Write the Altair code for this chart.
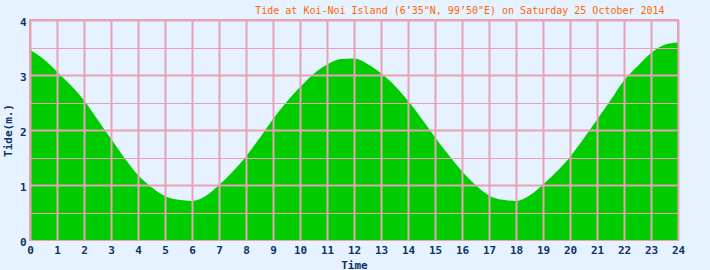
import altair as alt
import pandas as pd

hours = [0, 0.5, 1, 1.5, 2, 2.5, 3, 3.5, 4, 4.5, 5, 5.5, 6, 6.5, 7, 7.5, 8, 8.5,
         9, 9.5, 10, 10.5, 11, 11.5, 12, 12.5, 13, 13.5, 14, 14.5, 15, 15.5, 16,
         16.5, 17, 17.5, 18, 18.5, 19, 19.5, 20, 20.5, 21, 21.5, 22, 22.5, 23,
         23.5, 24]
tide = [3.46, 3.29, 3.06, 2.82, 2.54, 2.19, 1.84, 1.49, 1.18, 0.96, 0.80, 0.73,
        0.71, 0.80, 1.00, 1.24, 1.52, 1.85, 2.20, 2.51, 2.78, 3.02, 3.19, 3.29,
        3.30, 3.20, 3.03, 2.81, 2.53, 2.21, 1.87, 1.55, 1.25, 1.00, 0.81, 0.73,
        0.71, 0.81, 1.01, 1.24, 1.51, 1.84, 2.19, 2.54, 2.90, 3.16, 3.40, 3.55,
        3.59]

x_ticks = list(range(0, 25))
y_ticks = [i / 2 for i in range(0, 9)]

title_text = "Tide at Koi-Noi Island (6\u201935\"N, 99\u201950\"E) on Saturday 25 October 2014"

df = pd.DataFrame({"hour": hours, "tide": tide})

PINK = "#E8A2B6"
TXT = "#0B3366"
BG = "#E6F2FF"
FONT = "DejaVu Sans Mono"

chart = alt.Chart(df).mark_area(color="#00CC00", interpolate="monotone", opacity=1).encode(
    x=alt.X("hour:Q",
            scale=alt.Scale(domain=[0, 24], nice=False),
            axis=alt.Axis(values=x_ticks, title="Time", grid=True, gridColor=PINK,
                          gridWidth=2, gridOpacity=1, ticks=False, domain=False,
                          format="d",
                          labelFont=FONT, labelFontWeight="bold", labelFontSize=11,
                          labelColor=TXT, labelPadding=4, labelFlush=False,
                          titleFont=FONT, titleFontWeight="bold", titleFontSize=11,
                          titleColor=TXT, titlePadding=4, zindex=1)),
    y=alt.Y("tide:Q",
            scale=alt.Scale(domain=[0, 4], nice=False),
            axis=alt.Axis(values=y_ticks, title="Tide(m.)", grid=True,
                          gridColor={"condition": {"test": "datum.value == 0", "value": "transparent"}, "value": PINK},
                          gridWidth={"condition": {"test": "datum.value % 1 == 0", "value": 2}, "value": 1},
                          gridOpacity=1, ticks=False, domain=False,
                          labelExpr="datum.value % 1 == 0 ? format(datum.value, 'd') : ''",
                          labelFont=FONT, labelFontWeight="bold", labelFontSize=11,
                          labelColor=TXT, labelPadding=4, labelOffset=2, labelFlush=False,
                          titleFont=FONT, titleFontWeight="bold", titleFontSize=11,
                          titleColor=TXT, titlePadding=6, zindex=1)),
).properties(
    width=648,
    height=220,
    title=alt.TitleParams(title_text, anchor="end", font=FONT, fontSize=10,
                          fontWeight="normal", color="#FF6600", dx=-20, offset=0),
    background=BG,
    padding={"left": 30, "top": 20, "right": 32, "bottom": 30},
    autosize=alt.AutoSizeParams(type="none"),
).configure_view(stroke=PINK, strokeWidth=2, fill=BG)

chart.save("out.html", embed_options={"renderer": "svg", "actions": False})
